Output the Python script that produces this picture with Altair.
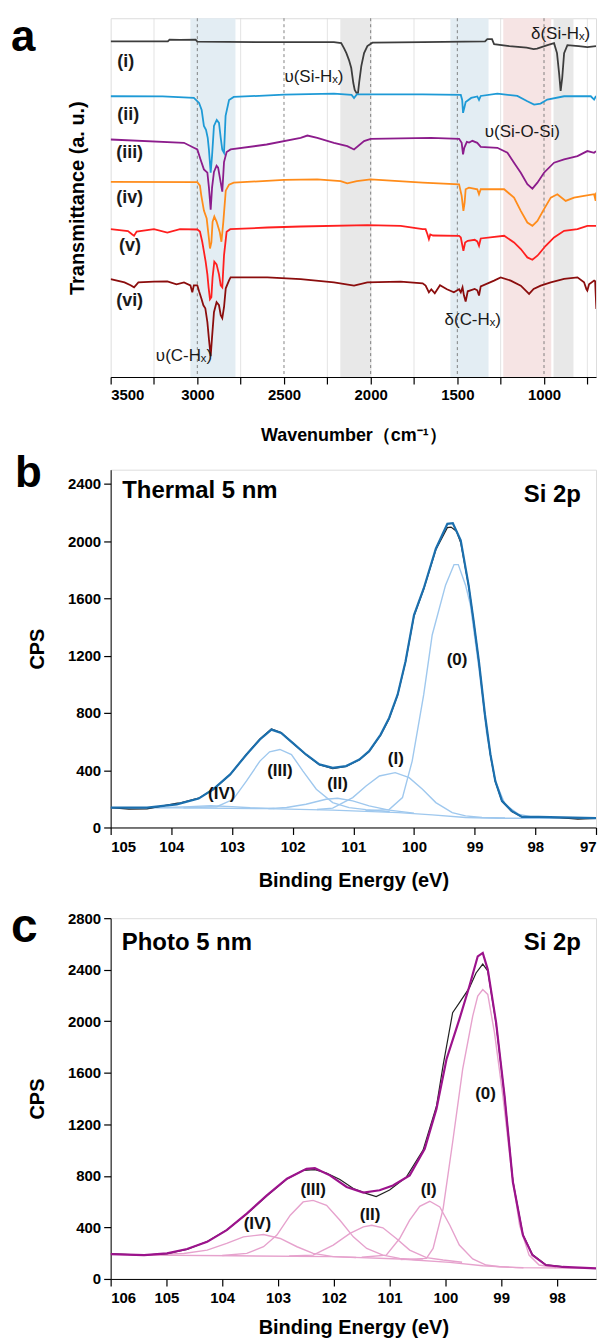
import altair as alt
import pandas as pd

FONT = "Liberation Sans"

# ---------------- Panel a : FTIR traces (wavenumber, transmittance a.u.) ----------------
W_i = [3500, 3170, 3160, 3100, 3010, 3000, 2600, 2212, 2170, 2154, 2140, 2125, 2112, 2100, 2092, 2082, 2073,
       2066, 2054, 2038, 2019, 1990, 1700, 1340, 1327, 1300, 1288, 1200, 1100, 1060, 1040, 980, 942, 925, 913,
       904, 895, 884, 865, 800, 750, 700]
T_i = [336.7, 336.7, 338.5, 338.3, 338.5, 336.5, 336, 336, 335, 330, 325, 318, 310, 295, 288, 285, 285,
       296, 312, 325, 332, 335.5, 336, 336.7, 339, 339, 334, 332, 330.5, 329, 329.5, 333, 335, 325, 305,
       287, 300, 325, 333, 332, 331, 332]

W_ii = [3500, 3200, 3020, 2990, 2975, 2962, 2950, 2940, 2933, 2923, 2915, 2904, 2888, 2875, 2865, 2856, 2846,
        2837, 2817, 2790, 2500, 2212, 2110, 2096, 2080, 1700, 1480, 1472, 1467, 1460, 1452, 1420, 1385, 1375,
        1365, 1269, 1154, 1096, 1057, 1020, 981, 884, 730, 711, 700]
T_ii = [281.7, 281.5, 280, 275, 268, 252, 248, 240, 228, 205, 222, 252, 258, 255, 240, 228, 225,
        262, 278, 281, 283.3, 284.3, 283, 280, 283.5, 283.5, 283, 278, 265, 270, 276, 280, 281.5, 278,
        282, 284.4, 282, 276.7, 273.4, 274.4, 278.4, 281.7, 281.7, 278.4, 282]

W_iii = [3500, 3077, 3020, 3000, 2981, 2962, 2942, 2933, 2923, 2915, 2904, 2889, 2880, 2870, 2856, 2846, 2831,
         2808, 2600, 2404, 2365, 2308, 2212, 2135, 2096, 2038, 2000, 1653, 1490, 1475, 1467, 1460, 1445, 1432,
         1413, 1385, 1365, 1269, 1211, 1173, 1134, 1096, 1067, 1038, 1000, 942, 884, 807, 750, 711, 700]
T_iii = [238.3, 235, 230, 228.3, 218, 208.3, 205, 190, 168, 190, 205.7, 212, 210, 200, 186, 215.7, 225.7,
         228.3, 233.3, 240, 242.3, 240, 235, 231.7, 228.3, 236.7, 239, 240, 239, 235, 223.4, 230, 236, 235.3,
         237, 235, 231, 230, 225, 215, 205, 193.4, 189, 195, 205, 215, 218.4, 221.7, 226.7, 225, 226.7]

W_iv = [3500, 3000, 2985, 2977, 2962, 2946, 2935, 2927, 2919, 2912, 2902, 2889, 2870, 2861, 2850, 2836, 2817,
        2790, 2500, 2308, 2173, 2135, 2080, 2000, 1700, 1490, 1475, 1465, 1458, 1452, 1433, 1385, 1375, 1365,
        1230, 1173, 1134, 1096, 1067, 1038, 1000, 961, 923, 875, 827, 769, 711, 702, 700]
T_iv = [195.7, 195.5, 192, 182, 167, 159, 142, 129, 135, 155.7, 161, 156, 145, 135.7, 155.7, 187, 193,
        195, 197.7, 198.4, 196.5, 194.4, 196.5, 198.4, 195, 193.4, 181.7, 166.7, 175, 188.4, 190, 188.4, 183.4,
        188.4, 188.4, 180, 166.7, 155, 151.7, 156.7, 168.4, 180, 183.4, 176.7, 180, 181.7, 183.4, 176.7, 185]

W_v = [3500, 3400, 3375, 3365, 3350, 3250, 3173, 3100, 3000, 2985, 2972, 2962, 2952, 2942, 2935, 2927, 2919,
       2912, 2902, 2889, 2875, 2865, 2856, 2846, 2831, 2810, 2596, 2404, 2019, 1827, 1700, 1683, 1672, 1664,
       1656, 1640, 1490, 1480, 1465, 1455, 1440, 1400, 1385, 1375, 1365, 1230, 1173, 1134, 1096, 1067, 1038,
       990, 942, 884, 807, 750, 700]
T_v = [148.3, 146.5, 143, 141.7, 146, 148.3, 145, 148.3, 148, 146, 136, 126, 115.7, 103, 90, 78, 80,
       100, 115.7, 113, 103, 92, 90, 122, 145.7, 148.3, 150, 151, 152.3, 151.7, 148.3, 148.3, 143, 138.3,
       143, 142, 141.7, 140, 126.7, 135, 136.7, 137.7, 136, 131.7, 139, 141.7, 135, 128.4, 120, 117.7, 121.7,
       131.7, 140, 146.7, 148.4, 151.7, 151.7]

W_vi = [3500, 3420, 3385, 3365, 3340, 3250, 3173, 3120, 3077, 3040, 3029, 3020, 3000, 2990, 2977, 2965, 2954,
        2942, 2933, 2923, 2915, 2904, 2889, 2875, 2865, 2856, 2846, 2836, 2817, 2808, 2596, 2404, 2212, 2096,
        2019, 1827, 1700, 1683, 1664, 1650, 1630, 1600, 1560, 1520, 1490, 1480, 1470, 1462, 1452, 1440, 1400,
        1385, 1375, 1365, 1288, 1250, 1192, 1134, 1086, 1060, 1019, 961, 884, 807, 769, 755, 750, 740, 711,
        705, 698]
T_vi = [98.3, 95, 92, 90, 95, 95.7, 96, 93, 95, 92, 85, 92, 92, 86, 79, 72, 69,
        55, 38, 21, 40, 65, 75, 72, 62, 59, 70, 89, 97, 100, 100, 98.3, 95, 91.7,
        95, 95.7, 94, 91.7, 85, 88, 84, 92, 88, 85, 88, 85, 90, 82, 75.7, 86, 88.4,
        87, 81.7, 91, 96.7, 100, 96.7, 91.7, 83.4, 88.4, 91.7, 95, 98.4, 100, 95, 88, 86.7, 93, 96.7,
        96, 68.4]

trace_names = ["(i)", "(ii)", "(iii)", "(iv)", "(v)", "(vi)"]
trace_colors = ["#3d3d3d", "#1e9ad6", "#8c1c8c", "#ff8c1a", "#ff1f1f", "#8b0d0d"]
trace_W = [W_i, W_ii, W_iii, W_iv, W_v, W_vi]
trace_T = [T_i, T_ii, T_iii, T_iv, T_v, T_vi]

band_lo = [3040, 2175, 1540, 1235, 945]
band_hi = [2780, 1995, 1320, 958, 830]
band_col = ["#e3edf3", "#e8e8e8", "#e3edf3", "#f6e4e4", "#e8e8e8"]

dash_lines = [3000, 2500, 2000, 1500, 1000]
faint_lines = [3250, 2750, 2250, 1750, 1250, 750]

lab_a_text = ["(i)", "(ii)", "(iii)", "(iv)", "(v)", "(vi)"]
lab_a_W = [3462, 3462, 3468, 3468, 3452, 3468]
lab_a_T = [316, 263, 225, 180, 131, 76]

vib_text = ["υ(Si-Hₓ)", "υ(C-Hₓ)", "δ(Si-Hₓ)", "υ(Si-O-Si)", "δ(C-Hₓ)"]
vib_W = [2327, 3077, 904, 1125, 1411]
vib_T = [301, 21, 344, 246, 57]

# ---------------- Panel b : XPS thermal ----------------
b_env_x = [105.0, 104.4, 103.91, 103.55, 103.31, 103.03, 102.76, 102.54, 102.35, 102.19, 102.0, 101.78, 101.56,
           101.34, 101.12, 100.90, 100.74, 100.55, 100.41, 100.27, 100.14, 100.0, 99.84, 99.64, 99.45, 99.36,
           99.23, 99.10, 99.02, 98.93, 98.83, 98.74, 98.66, 98.55, 98.39, 98.22, 97.95, 97.0]
b_env_y = [139, 139, 162, 202, 267, 371, 510, 615, 684, 661, 591, 510, 441,
           417, 429, 475, 533, 649, 765, 928, 1160, 1484, 1670, 1948, 2122, 2126,
           2006, 1693, 1452, 1160, 788, 510, 325, 186, 116, 74, 74, 65]
b_raw_x = [105.0, 104.7, 104.4, 103.9, 103.85, 103.55, 103.31, 103.03, 102.76, 102.54, 102.35, 102.19, 102.0,
           101.78, 101.56, 101.34, 101.12, 100.90, 100.74, 100.55, 100.41, 100.27, 100.14, 100.0, 99.84, 99.64,
           99.45, 99.39, 99.30, 99.23, 99.10, 99.02, 98.93, 98.83, 98.74, 98.66, 98.55, 98.39, 98.22, 97.95,
           97.6, 97.3, 97.0]
b_raw_y = [139, 128, 130, 170, 172, 205, 265, 370, 512, 618, 688, 664, 590,
           508, 438, 412, 426, 473, 530, 645, 760, 925, 1155, 1478, 1665, 1940,
           2095, 2099, 2070, 1990, 1690, 1450, 1155, 780, 505, 320, 182, 112, 74, 72,
           68, 58, 64]
b_c0_x = [100.8, 100.41, 100.19, 100.03, 99.84, 99.70, 99.48, 99.34, 99.27, 99.15, 99.07, 98.93, 98.80, 98.66,
          98.50, 98.28, 98.06]
b_c0_y = [117, 125, 209, 464, 928, 1345, 1693, 1837, 1837, 1693, 1554, 1113, 649, 325, 162, 93, 74]
b_c1_x = [101.6, 101.34, 101.01, 100.79, 100.57, 100.31, 100.08, 99.86, 99.64, 99.37, 99.15, 98.88, 98.5]
b_c1_y = [126, 135, 209, 290, 360, 383, 348, 267, 174, 104, 81, 70, 66]
b_c2_x = [102.4, 102.1, 101.78, 101.45, 101.26, 101.01, 100.74, 100.41, 100.0]
b_c2_y = [132, 140, 162, 197, 204, 186, 151, 121, 100]
b_c3_x = [103.8, 103.25, 102.98, 102.76, 102.54, 102.38, 102.21, 102.02, 101.83, 101.61, 101.34, 101.07,
          100.79, 100.4]
b_c3_y = [137, 145, 197, 325, 464, 529, 545, 510, 394, 267, 174, 139, 125, 110]
b_c4_x = [104.4, 104.07, 103.7, 103.35, 103.0, 102.7, 102.3]
b_c4_y = [139, 140, 146, 152, 146, 138, 133]
b_bg_x = [105, 104.0, 102.43, 101.34, 100.25, 99.7, 99.15, 98.6, 97.0]
b_bg_y = [139, 137, 132, 121, 104, 88, 70, 65, 65]
b_lab = ["(IV)", "(III)", "(II)", "(I)", "(0)"]
b_lab_x = [103.17, 102.21, 101.26, 100.30, 99.29]
b_lab_y = [232, 394, 302, 480, 1171]

# ---------------- Panel c : XPS photo ----------------
c_env_x = [106, 105.40, 104.99, 104.63, 104.27, 103.92, 103.56, 103.20, 102.84, 102.49, 102.34, 102.07, 101.77,
           101.47, 101.18, 100.94, 100.64, 100.37, 100.16, 99.98, 99.75, 99.57, 99.42, 99.33, 99.24, 99.09,
           98.94, 98.79, 98.61, 98.44, 98.20, 97.90, 97.3]
c_env_y = [193, 185, 198, 232, 288, 379, 507, 649, 778, 855, 860, 804, 714,
           670, 688, 726, 804, 1010, 1319, 1705, 2014, 2272, 2504, 2530, 2401, 1988,
           1422, 752, 340, 185, 108, 93, 82]
c_raw_x = [106, 105.40, 104.99, 104.63, 104.27, 103.92, 103.56, 103.20, 102.84, 102.55, 102.34, 102.13, 101.89,
           101.65, 101.41, 101.24, 101.0, 100.70, 100.40, 100.16, 100.04, 99.87, 99.75, 99.57, 99.45, 99.33,
           99.24, 99.09, 98.94, 98.79, 98.61, 98.44, 98.20, 97.90]
c_raw_y = [195, 186, 196, 230, 290, 380, 505, 645, 775, 842, 848, 822, 772,
           702, 662, 640, 690, 790, 1000, 1340, 1660, 2066, 2143, 2259, 2375, 2444,
           2390, 1980, 1420, 760, 345, 190, 110, 95]
c_c0_x = [100.8, 100.34, 100.22, 100.04, 99.87, 99.69, 99.51, 99.42, 99.33, 99.24, 99.12, 98.97, 98.82, 98.67,
          98.50, 98.32, 98.02]
c_c0_y = [150, 160, 237, 546, 1061, 1628, 2040, 2195, 2246, 2208, 1911, 1422, 855, 417, 185, 108, 88]
c_c1_x = [101.5, 101.06, 100.82, 100.64, 100.46, 100.28, 100.10, 99.92, 99.75, 99.51, 99.27, 99.03, 98.6]
c_c1_y = [168, 185, 314, 456, 564, 603, 559, 417, 263, 155, 108, 95, 87]
c_c2_x = [102.8, 102.37, 102.01, 101.71, 101.47, 101.32, 101.12, 100.88, 100.64, 100.34, 100.04, 99.7]
c_c2_y = [178, 185, 263, 353, 404, 417, 397, 314, 224, 165, 147, 130]
c_c3_x = [104.0, 103.56, 103.26, 103.02, 102.78, 102.55, 102.37, 102.13, 101.89, 101.65, 101.41, 101.12,
          100.82, 100.4]
c_c3_y = [182, 198, 250, 340, 495, 598, 610, 572, 456, 327, 237, 185, 160, 145]
c_c4_x = [105.4, 104.69, 104.27, 103.92, 103.62, 103.26, 102.96, 102.66, 102.37, 102.01, 101.6]
c_c4_y = [186, 198, 224, 276, 327, 345, 314, 250, 198, 173, 166]
c_bg_x = [106, 105.40, 103.80, 102.01, 100.82, 99.92, 99.33, 98.73, 97.3]
c_bg_y = [193, 185, 180, 173, 155, 129, 103, 88, 82]
c_lab = ["(IV)", "(III)", "(II)", "(I)", "(0)"]
c_lab_x = [103.37, 102.37, 101.35, 100.30, 99.28]
c_lab_y = [430, 688, 500, 688, 1435]

W_PANEL = 487


def long_df(xs_list, ys_list, names):
    rows = []
    for nm, xs, ys in zip(names, xs_list, ys_list):
        for k, (x, y) in enumerate(zip(xs, ys)):
            rows.append({"series": nm, "x": x, "y": y, "k": k})
    return pd.DataFrame(rows)


def letter(ch, dx, dy, size):
    return alt.Chart(pd.DataFrame({"t": [ch]})).mark_text(
        font=FONT, fontWeight="bold", fontSize=size, align="left", baseline="alphabetic", color="black"
    ).encode(text="t:N", x=alt.value(dx), y=alt.value(dy))


def spacer(dy):
    return alt.Chart(pd.DataFrame({"t": ["."]})).mark_text(
        font=FONT, fontSize=8, align="left", baseline="top", color="white", opacity=0
    ).encode(text="t:N", x=alt.value(0), y=alt.value(dy))


# ---------- panel a ----------
xa = alt.Scale(domain=[3500, 700], nice=False, zero=False)
ya = alt.Scale(domain=[0, 360], nice=False, zero=False)
xa_axis = alt.Axis(values=list(range(3500, 699, -250)), labelExpr="datum.value % 500 == 0 ? datum.label : ''",
                   format="d", grid=False, tickSize=7, tickColor="black", domainColor="black", tickWidth=1.2,
                   labelFont=FONT, labelFontSize=15, labelFontWeight="bold", labelColor="black", labelPadding=4,
                   title="Wavenumber（cm⁻¹）", titleFont=FONT, titleFontSize=18, titleFontWeight="bold",
                   titleColor="black", titlePadding=24)
ya_axis = alt.Axis(title="Transmittance (a. u.)", labels=False, ticks=False, domain=False, grid=False,
                   titleFont=FONT, titleFontSize=20, titleFontWeight="bold", titleColor="black", titlePadding=23)

bands = alt.Chart(pd.DataFrame({"lo": band_lo, "hi": band_hi, "c": band_col})).mark_rect().encode(
    x=alt.X("lo:Q", scale=xa, axis=xa_axis), x2="hi:Q", color=alt.Color("c:N", scale=None))
faint = alt.Chart(pd.DataFrame({"w": faint_lines})).mark_rule(color="#dcdcdc", strokeWidth=0.8).encode(
    x=alt.X("w:Q", scale=xa, axis=xa_axis))
dashed = alt.Chart(pd.DataFrame({"w": dash_lines})).mark_rule(color="#666666", strokeWidth=0.8,
                                                              strokeDash=[3, 3]).encode(
    x=alt.X("w:Q", scale=xa, axis=xa_axis))
dfa = long_df(trace_W, trace_T, trace_names)
lines_a = alt.Chart(dfa).mark_line(strokeWidth=1.8, clip=True).encode(
    x=alt.X("x:Q", scale=xa, axis=xa_axis), y=alt.Y("y:Q", scale=ya, axis=ya_axis),
    color=alt.Color("series:N", scale=alt.Scale(domain=trace_names, range=trace_colors), legend=None),
    order="k:Q")
lab_a = alt.Chart(pd.DataFrame({"x": lab_a_W, "y": lab_a_T, "t": lab_a_text})).mark_text(
    font=FONT, fontSize=18, fontWeight="bold", align="left", color="#1a1a1a").encode(
    x=alt.X("x:Q", scale=xa), y=alt.Y("y:Q", scale=ya), text="t:N")
vib_a = alt.Chart(pd.DataFrame({"x": vib_W, "y": vib_T, "t": vib_text})).mark_text(
    font=FONT, fontSize=17, color="#1a1a1a").encode(
    x=alt.X("x:Q", scale=xa), y=alt.Y("y:Q", scale=ya), text="t:N")

panel_a = alt.layer(bands, faint, dashed, lines_a, lab_a, vib_a, letter("a", -100, 32.5, 44)).properties(
    width=W_PANEL, height=360)


# ---------- XPS panels ----------
def xps_panel(dom_x, ticks_x, dom_y, ticks_y, env, raw, comps, bg, labs, env_col, comp_col, name_txt,
              name_xy, si_xy, extra, height, title_pad):
    xs = alt.Scale(domain=dom_x, nice=False, zero=False)
    ys = alt.Scale(domain=dom_y, nice=False, zero=False)
    x_axis = alt.Axis(values=ticks_x, labelExpr="datum.value % 1 == 0 ? datum.label : ''", format="d",
                      grid=False, tickSize=7, tickColor="black", domainColor="black", tickWidth=1.2,
                      labelFont=FONT, labelFontSize=15, labelFontWeight="bold", labelColor="black",
                      labelPadding=5,
                      title="Binding Energy (eV)", titleFont=FONT, titleFontSize=20, titleFontWeight="bold",
                      titleColor="black", titlePadding=title_pad)
    y_axis = alt.Axis(values=ticks_y, format="d", grid=False, tickSize=7, tickColor="black",
                      domainColor="black", tickWidth=1.2, labelFont=FONT, labelFontSize=15,
                      labelFontWeight="bold", labelColor="black", labelPadding=3,
                      title="CPS", titleFont=FONT, titleFontSize=20, titleFontWeight="bold",
                      titleColor="black", titlePadding=20)
    comp_df = long_df([c[0] for c in comps], [c[1] for c in comps], ["c%d" % i for i in range(len(comps))])
    comp_df = pd.concat([comp_df, long_df([bg[0]], [bg[1]], ["bg"])])
    comps_l = alt.Chart(comp_df).mark_line(color=comp_col, strokeWidth=1.4, clip=True).encode(
        x=alt.X("x:Q", scale=xs, axis=x_axis), y=alt.Y("y:Q", scale=ys, axis=y_axis),
        detail="series:N", order="k:Q")
    raw_l = alt.Chart(long_df([raw[0]], [raw[1]], ["raw"])).mark_line(color="#222222", strokeWidth=1.2,
                                                                     clip=True).encode(
        x=alt.X("x:Q", scale=xs, axis=x_axis), y=alt.Y("y:Q", scale=ys, axis=y_axis), order="k:Q")
    env_l = alt.Chart(long_df([env[0]], [env[1]], ["env"])).mark_line(color=env_col, strokeWidth=2.2,
                                                                     clip=True).encode(
        x=alt.X("x:Q", scale=xs, axis=x_axis), y=alt.Y("y:Q", scale=ys, axis=y_axis), order="k:Q")
    lab = alt.Chart(pd.DataFrame({"x": labs[1], "y": labs[2], "t": labs[0]})).mark_text(
        font=FONT, fontSize=17, fontWeight="bold", color="#111111").encode(
        x=alt.X("x:Q", scale=xs), y=alt.Y("y:Q", scale=ys), text="t:N")
    nm = alt.Chart(pd.DataFrame({"x": [name_xy[0]], "y": [name_xy[1]], "t": [name_txt]})).mark_text(
        font=FONT, fontSize=24, fontWeight="bold", align="left", color="black").encode(
        x=alt.X("x:Q", scale=xs), y=alt.Y("y:Q", scale=ys), text="t:N")
    si = alt.Chart(pd.DataFrame({"x": [si_xy[0]], "y": [si_xy[1]], "t": ["Si 2p"]})).mark_text(
        font=FONT, fontSize=24, fontWeight="bold", align="right", color="black").encode(
        x=alt.X("x:Q", scale=xs), y=alt.Y("y:Q", scale=ys), text="t:N")
    return alt.layer(comps_l, raw_l, env_l, lab, nm, si, *extra).properties(width=W_PANEL, height=height)


panel_b = xps_panel(
    [105, 97], [105 - 0.5 * i for i in range(17)], [0, 2500], list(range(0, 2401, 400)),
    (b_env_x, b_env_y), (b_raw_x, b_raw_y),
    [(b_c0_x, b_c0_y), (b_c1_x, b_c1_y), (b_c2_x, b_c2_y), (b_c3_x, b_c3_y), (b_c4_x, b_c4_y)],
    (b_bg_x, b_bg_y), (b_lab, b_lab_x, b_lab_y), "#1b6fae", "#9fc8ee", "Thermal 5 nm",
    (104.81, 2354), (97.25, 2326), [letter("b", -96, 17, 44)], 359, 16)

panel_c = xps_panel(
    [106, 97.3], [106 - 0.5 * i for i in range(18)], [0, 2800], list(range(0, 2801, 400)),
    (c_env_x, c_env_y), (c_raw_x, c_raw_y),
    [(c_c0_x, c_c0_y), (c_c1_x, c_c1_y), (c_c2_x, c_c2_y), (c_c3_x, c_c3_y), (c_c4_x, c_c4_y)],
    (c_bg_x, c_bg_y), (c_lab, c_lab_x, c_lab_y), "#9c138c", "#e6a2cd", "Photo 5 nm",
    (105.8, 2607), (97.57, 2607), [letter("c", -100, 24, 48), spacer(-21)], 362, 12)

chart = alt.vconcat(panel_a, panel_b, panel_c, spacing=5).properties(
    padding={"left": 2, "top": 5, "right": 0, "bottom": 0}
).configure_view(stroke="black", strokeWidth=1.5).configure(background="white")

chart.save("out.html", embed_options={"renderer": "svg", "actions": False})
